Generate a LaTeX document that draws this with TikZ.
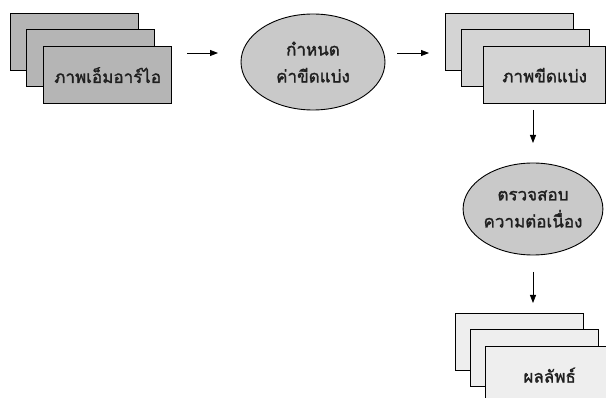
\documentclass[tikz,border=0pt]{standalone}
\usepackage{fontspec}
\newfontfamily\thaifont[Script=Thai,AutoFakeBold=1.6]{Loma}
\usetikzlibrary{arrows.meta,shapes.geometric}
\begin{document}
\begin{tikzpicture}[x=1pt,y=-1pt,
  card/.style={draw=black, line width=1.3pt, anchor=north west, minimum width=128pt, minimum height=57pt, inner sep=0pt},
  cardA/.style={card, fill=gray!58},
  cardB/.style={card, fill=gray!34},
  cardC/.style={card, fill=gray!13},
  oval/.style={ellipse, draw=black, line width=0.9pt, fill=gray!42, inner sep=0pt, align=center},
  lbl/.style={font=\thaifont\bfseries\fontsize{17}{27}\selectfont, text=black!88},
  arr/.style={draw=black, line width=0.8pt, -{Triangle[length=8pt,width=6pt]}}]
\clip (0,0) rectangle (606,398);
\fill[white] (0,0) rectangle (606,398);
% stack 1
\node[cardA] (s1a) at (10,13) {};
\node[cardA] (s1b) at (26,29) {};
\node[cardA, lbl] (s1c) at (43,46) {ภาพเอ็มอาร์ไอ};
% ellipse 1
\node[oval, lbl, minimum width=144pt, minimum height=96pt] (e1) at (313,62) {กำหนด\\ค่าขีดแบ่ง};
% stack 2
\node[cardB] (s2a) at (445,13) {};
\node[cardB] (s2b) at (461,29) {};
\node[cardB, lbl, minimum width=122pt] (s2c) at (483,46) {ภาพขีดแบ่ง};
% ellipse 2
\node[oval, lbl, minimum width=137pt, minimum height=92pt] (e2) at (533,209) {ตรวจสอบ\\ความต่อเนื่อง};
% stack 3
\node[cardC] (s3a) at (455,313) {};
\node[cardC] (s3b) at (470,329) {};
\node[cardC, lbl] (s3c) at (485,346) {ผลลัพธ์};
% arrows
\coordinate (a1s) at (187,53);
\coordinate (a1e) at (218,53);
\coordinate (a2s) at (397,53);
\coordinate (a2e) at (429,53);
\coordinate (a3s) at (533,110);
\coordinate (a3e) at (533,143);
\coordinate (a4s) at (533,272);
\coordinate (a4e) at (533,303);
\draw[arr] (a1s) -- (a1e);
\draw[arr] (a2s) -- (a2e);
\draw[arr] (a3s) -- (a3e);
\draw[arr] (a4s) -- (a4e);
\end{tikzpicture}
\end{document}
